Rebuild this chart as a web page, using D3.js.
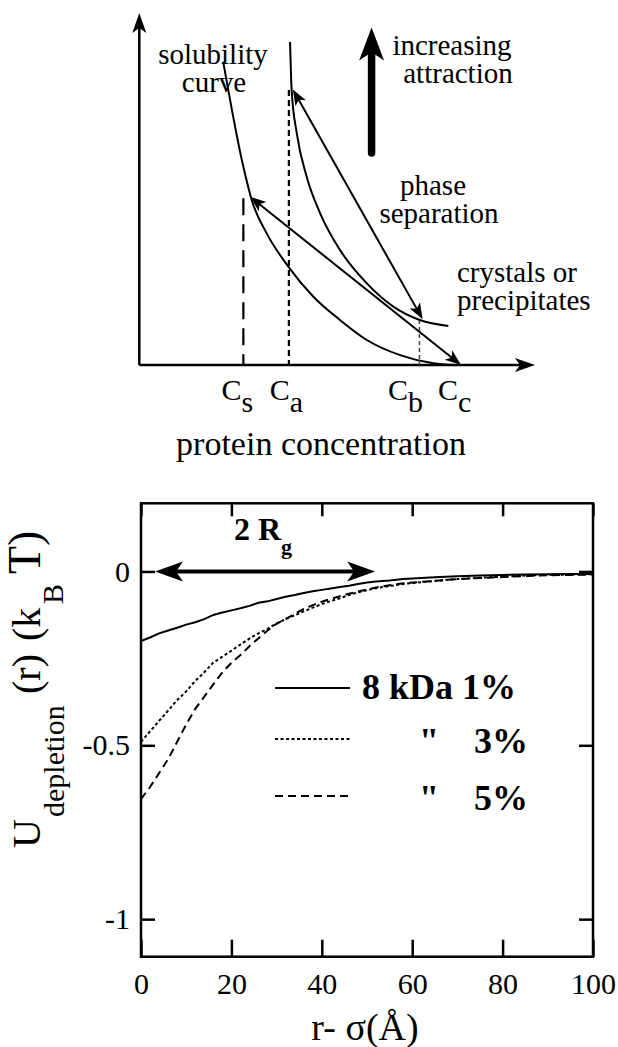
<!DOCTYPE html>
<html>
<head>
<meta charset="utf-8">
<script src="https://cdn.jsdelivr.net/npm/d3@7"></script>
<style>
  body { margin: 0; background: #fff; }
  svg, svg text { font-family: "Liberation Serif", "DejaVu Serif", serif; }
</style>
</head>
<body>
<div id="chart"></div>
<script>
// ---- top schematic (concentration vs attraction, arbitrary 0..100 units) ----
var solubilityCurve = [[21.2,86.2],[26.3,56.3],[28.4,46.9],[32.2,37.4],[37.7,27.9],[44.0,19.4],
  [50.7,12.8],[57.5,7.1],[65.9,2.8],[74.3,0.5],[79.8,0]];
var boundaryCurve = [[38.1,91.8],[38.5,78.1],[39.8,65.8],[42.3,53.5],[45.7,43.1],[50.7,32.7],
  [57.5,23.2],[64.2,16.6],[70.9,12.8],[78.1,11.1]];
var tieLines = [[[38.8,78.3],[71.6,13.0]], [[28.0,47.8],[81.3,0]]];
var dropLines = [
  {x: 26.3, top: 47.4, dash: "17,9", width: 2.2, color: "#000"},
  {x: 37.8, top: 78.1, dash: "6,4", width: 2.2, color: "#000"},
  {x: 70.8, top: 12.8, dash: "4,3", width: 1.5, color: "#444"}
];
var concLabels = [{sub: "s", x: 24.8}, {sub: "a", x: 37.2}, {sub: "b", x: 67.3}, {sub: "c", x: 79.7}];
var attractionArrow = {x: 58.7, y0: 60.2, y1: 95.9};

// ---- bottom plot: depletion potential ----
var rValues = [0,2,4,6,8,10,12,14,16,18,20,22,24,26,28,30,32,34,36,38,40,42,44,46,48,50,52,55,58,62,66,70,75,80,85,90,95,100];
var u1 = [-0.200,-0.190,-0.178,-0.170,-0.162,-0.153,-0.146,-0.137,-0.125,-0.118,-0.112,-0.106,-0.099,-0.090,-0.086,-0.079,
  -0.073,-0.068,-0.062,-0.057,-0.053,-0.049,-0.045,-0.041,-0.036,-0.032,-0.029,-0.026,-0.022,-0.019,-0.016,-0.014,
  -0.012,-0.010,-0.009,-0.008,-0.007,-0.007];
var u3 = [-0.49,-0.46,-0.43,-0.40,-0.37,-0.345,-0.315,-0.29,-0.262,-0.245,-0.228,-0.210,-0.193,-0.178,-0.165,-0.150,
  -0.137,-0.126,-0.115,-0.104,-0.094,-0.085,-0.077,-0.068,-0.060,-0.054,-0.048,-0.042,-0.036,-0.031,-0.026,-0.022,
  -0.018,-0.015,-0.012,-0.010,-0.009,-0.008];
var u5 = [-0.655,-0.62,-0.58,-0.54,-0.49,-0.44,-0.395,-0.36,-0.325,-0.29,-0.263,-0.24,-0.215,-0.192,-0.170,-0.150,
  -0.137,-0.122,-0.108,-0.097,-0.087,-0.079,-0.071,-0.064,-0.058,-0.052,-0.046,-0.040,-0.034,-0.030,-0.026,-0.022,
  -0.019,-0.016,-0.013,-0.011,-0.010,-0.009];
var xTicks = [0,20,40,60,80,100];
var yTicks = [0,-0.5,-1];
var yTickLabels = ["0","-0.5","-1"];
var seriesNames = ["1%","3%","5%"];
var rgArrow = [3.1, 51.8];

var W = 618, H = 1047;
var FONT = "Liberation Serif, DejaVu Serif, serif";
var svg = d3.select("#chart").append("svg").attr("width", W).attr("height", H)
  .attr("font-family", FONT);

// arrowhead: tip at (x2,y2), pointing away from (x1,y1)
function head(x1, y1, x2, y2, len, half, back) {
  var dx = x2 - x1, dy = y2 - y1, L = Math.sqrt(dx*dx + dy*dy);
  var ux = dx / L, uy = dy / L, nx = -uy, ny = ux;
  var bx = x2 - ux*len, by = y2 - uy*len;
  var cx = x2 - ux*len*back, cy = y2 - uy*len*back;
  return "M" + x2 + "," + y2 + "L" + (bx + nx*half) + "," + (by + ny*half) +
    "L" + cx + "," + cy + "L" + (bx - nx*half) + "," + (by - ny*half) + "Z";
}
function trim(x1, y1, x2, y2, d) {
  var dx = x2 - x1, dy = y2 - y1, L = Math.sqrt(dx*dx + dy*dy);
  return [x2 - dx/L*d, y2 - dy/L*d];
}
function arrow(g, x1, y1, x2, y2, opt) {
  var a = opt.both ? trim(x2, y2, x1, y1, opt.len*0.6) : [x1, y1];
  var b = trim(x1, y1, x2, y2, opt.len*0.6);
  g.append("line").attr("x1", a[0]).attr("y1", a[1]).attr("x2", b[0]).attr("y2", b[1])
    .attr("stroke", "#000").attr("stroke-width", opt.width).attr("stroke-linecap", opt.cap || "butt");
  g.append("path").attr("d", head(x1, y1, x2, y2, opt.len, opt.half, 0.75)).attr("fill", "#000");
  if (opt.both) g.append("path").attr("d", head(x2, y2, x1, y1, opt.len, opt.half, 0.75)).attr("fill", "#000");
}

// ================= top schematic =================
var xs = d3.scaleLinear().domain([0, 100]).range([139.3, 535]);
var ys = d3.scaleLinear().domain([0, 100]).range([365, 13]);
var topG = svg.append("g");

arrow(topG, xs(0), ys(0), xs(100), ys(0), {len: 20, half: 7, width: 2.5});
arrow(topG, xs(0), ys(0), xs(0), ys(100), {len: 20, half: 7, width: 2.5});

var curveLine = d3.line().x(function(d) { return xs(d[0]); }).y(function(d) { return ys(d[1]); })
  .curve(d3.curveMonotoneX);

topG.selectAll(".drop").data(dropLines).enter().append("line")
  .attr("x1", function(d) { return xs(d.x); }).attr("x2", function(d) { return xs(d.x); })
  .attr("y1", function(d) { return ys(d.top); }).attr("y2", ys(0))
  .attr("stroke", function(d) { return d.color; })
  .attr("stroke-width", function(d) { return d.width; })
  .attr("stroke-dasharray", function(d) { return d.dash; });

topG.append("path").attr("d", curveLine(solubilityCurve)).attr("fill", "none").attr("stroke", "#000").attr("stroke-width", 2);
topG.append("path").attr("d", curveLine(boundaryCurve)).attr("fill", "none").attr("stroke", "#000").attr("stroke-width", 2);

tieLines.forEach(function(t) {
  arrow(topG, xs(t[0][0]), ys(t[0][1]), xs(t[1][0]), ys(t[1][1]), {len: 16, half: 6, width: 2, both: true});
});

arrow(topG, xs(attractionArrow.x), ys(attractionArrow.y0), xs(attractionArrow.x), ys(attractionArrow.y1),
  {len: 33, half: 12.5, width: 7.5, cap: "round"});

var notes = [
  {t: "solubility", x: 213, y: 64, a: "middle"},
  {t: "curve", x: 214, y: 92, a: "middle"},
  {t: "increasing", x: 452, y: 55, a: "middle"},
  {t: "attraction", x: 458, y: 83, a: "middle"},
  {t: "phase", x: 433, y: 195, a: "middle"},
  {t: "separation", x: 439, y: 223, a: "middle"},
  {t: "crystals or", x: 457, y: 282, a: "start"},
  {t: "precipitates", x: 457, y: 310, a: "start"}
];
topG.selectAll(".note").data(notes).enter().append("text")
  .attr("x", function(d) { return d.x; }).attr("y", function(d) { return d.y; })
  .attr("text-anchor", function(d) { return d.a; })
  .attr("font-size", 29).text(function(d) { return d.t; });

var cl = topG.selectAll(".clab").data(concLabels).enter().append("text")
  .attr("x", function(d) { return xs(d.x); }).attr("y", 400)
  .attr("text-anchor", "middle").attr("font-size", 30);
cl.append("tspan").text("C");
cl.append("tspan").attr("dy", 12).text(function(d) { return d.sub; });

topG.append("text").attr("x", 321).attr("y", 455).attr("text-anchor", "middle")
  .attr("font-size", 34).text("protein concentration");

// ================= bottom plot =================
var x = d3.scaleLinear().domain([0, 100]).range([141, 593]);
var y = d3.scaleLinear().domain([-1.108, 0.196]).range([956.7, 503.3]);
var bot = svg.append("g");

function styleAxis(g) {
  g.attr("font-family", FONT);
  g.select(".domain").remove();
  g.selectAll(".tick line").attr("stroke", "#000").attr("stroke-width", 2.5);
  g.selectAll(".tick text").attr("font-size", 30).attr("fill", "#000");
}
bot.append("g").attr("transform", "translate(0," + y.range()[0] + ")")
  .call(d3.axisBottom(x).tickValues(xTicks).tickSizeInner(-17).tickSizeOuter(0).tickPadding(16)).call(styleAxis);
bot.append("g").attr("transform", "translate(0," + y.range()[1] + ")")
  .call(d3.axisTop(x).tickValues(xTicks).tickSizeInner(-13).tickSizeOuter(0).tickFormat("")).call(styleAxis);
bot.append("g").attr("transform", "translate(" + x.range()[0] + ",0)")
  .call(d3.axisLeft(y).tickValues(yTicks).tickSizeInner(-14).tickSizeOuter(0).tickPadding(11)
    .tickFormat(function(d, i) { return yTickLabels[i]; })).call(styleAxis);
bot.append("g").attr("transform", "translate(" + x.range()[1] + ",0)")
  .call(d3.axisRight(y).tickValues(yTicks).tickSizeInner(-14).tickSizeOuter(0).tickFormat("")).call(styleAxis);

bot.append("rect").attr("x", x.range()[0]).attr("y", y.range()[1])
  .attr("width", x.range()[1] - x.range()[0]).attr("height", y.range()[0] - y.range()[1])
  .attr("fill", "none").attr("stroke", "#000").attr("stroke-width", 2.5);

var series = [
  {vals: u1, dash: null},
  {vals: u3, dash: "3,2.5"},
  {vals: u5, dash: "8,5"}
];
var potLine = d3.line().x(function(d) { return x(d[0]); }).y(function(d) { return y(d[1]); });
series.forEach(function(s) {
  bot.append("path").attr("d", potLine(rValues.map(function(r, i) { return [r, s.vals[i]]; })))
    .attr("fill", "none").attr("stroke", "#000").attr("stroke-width", 2)
    .attr("stroke-dasharray", s.dash);
});

arrow(bot, x(rgArrow[0]), y(0), x(rgArrow[1]), y(0), {len: 28, half: 10, width: 4, both: true});
var rg = bot.append("text").attr("x", 234).attr("y", 540).attr("font-size", 32).attr("font-weight", "bold");
rg.append("tspan").text("2 R");
rg.append("tspan").attr("font-size", 22).attr("dy", 14).text("g");

// legend
var legY = [688, 739, 796];
series.forEach(function(s, i) {
  bot.append("line").attr("x1", 275).attr("x2", 350).attr("y1", legY[i]).attr("y2", legY[i])
    .attr("stroke", "#000").attr("stroke-width", 2).attr("stroke-dasharray", s.dash);
});
bot.append("text").attr("x", 362).attr("y", 699).attr("font-size", 36).attr("font-weight", "bold")
  .text("8 kDa " + seriesNames[0]);
[1, 2].forEach(function(i) {
  bot.append("text").attr("x", 419).attr("y", legY[i] + 14).attr("font-size", 36).attr("font-weight", "bold").text("\"");
  bot.append("text").attr("x", 474).attr("y", legY[i] + 14).attr("font-size", 36).attr("font-weight", "bold").text(seriesNames[i]);
});

// axis titles
svg.append("text").attr("x", 365).attr("y", 1040).attr("text-anchor", "middle").attr("font-size", 38).text("r- σ(Å)");
var yt = svg.append("text").attr("transform", "translate(40,848) rotate(-90)").attr("font-size", 40);
yt.append("tspan").attr("x", 0).attr("y", 0).text("U");
yt.append("tspan").attr("x", 31).attr("y", 24).attr("font-size", 30).text("depletion");
yt.append("tspan").attr("x", 154).attr("y", 0).text("(r)");
yt.append("tspan").attr("x", 207).attr("y", 0).text("(k");
yt.append("tspan").attr("x", 244).attr("y", 23).attr("font-size", 30).text("B");
yt.append("tspan").attr("x", 274).attr("y", 0).attr("font-size", 46).text("T)");
</script>
</body>
</html>
